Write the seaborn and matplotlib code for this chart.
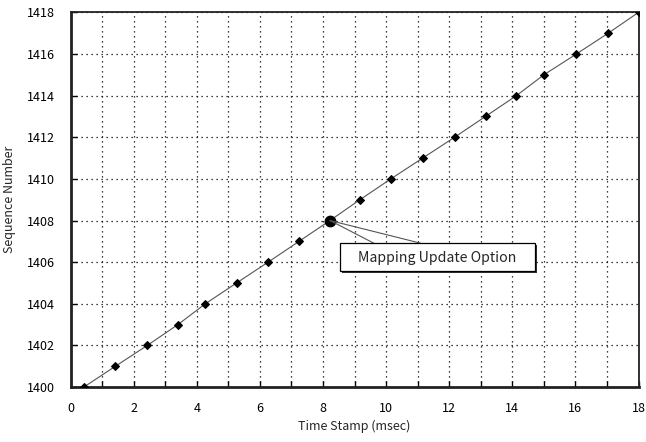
import matplotlib
matplotlib.use("Agg")
import matplotlib.pyplot as plt
import seaborn as sns
import pandas as pd
from matplotlib.patches import Rectangle
from matplotlib.ticker import MultipleLocator

time_ms = [0.42, 1.42, 2.43, 3.40, 4.27, 5.26, 6.26, 7.24, 8.22, 9.17,
           10.15, 11.16, 12.17, 13.15, 14.13, 15.00, 16.03, 17.04, 18.0]
seq_num = [1400, 1401, 1402, 1403, 1404, 1405, 1406, 1407, 1408, 1409,
           1410, 1411, 1412, 1413, 1414, 1415, 1416, 1417, 1418]
highlight_idx = 8
annotation_text = "Mapping Update Option"
x_ticks = [0, 2, 4, 6, 8, 10, 12, 14, 16, 18]
y_ticks = [1400, 1402, 1404, 1406, 1408, 1410, 1412, 1414, 1416, 1418]

sns.set_style("white")
plt.rcParams['font.family'] = ['Noto Sans CJK JP', 'DejaVu Sans']

df = pd.DataFrame({"t": time_ms, "s": seq_num})

fig = plt.figure(figsize=(6.46, 4.42), dpi=100)
ax = fig.add_axes([0.1094, 0.1244, 0.8790, 0.8476])

sns.lineplot(data=df, x="t", y="s", ax=ax, color="#555555", linewidth=0.8,
             marker="D", markersize=4, markerfacecolor="black",
             markeredgecolor="black", zorder=3)
hx, hy = time_ms[highlight_idx], seq_num[highlight_idx]
ax.plot([hx], [hy], marker="o", markersize=7.5, color="black", zorder=4)

ax.set_xlim(0, 18)
ax.set_ylim(1400, 1418)
ax.set_xticks(x_ticks)
ax.set_yticks(y_ticks)
ax.xaxis.set_minor_locator(MultipleLocator(1))
ax.grid(True, which="both", axis="x", color="black", linestyle=(0, (1, 3)), linewidth=0.9)
ax.grid(True, which="major", axis="y", color="black", linestyle=(0, (1, 3)), linewidth=0.9)
ax.tick_params(axis="both", which="both", direction="in", length=4, width=1,
               labelsize=9, colors="black", left=True, bottom=True)
ax.tick_params(axis="x", pad=11)
ax.tick_params(axis="y", pad=11)

for side in ["left", "bottom"]:
    ax.spines[side].set_linewidth(2)
    ax.spines[side].set_color("#222222")
for side in ["top", "right"]:
    ax.spines[side].set_linewidth(1.3)
    ax.spines[side].set_color("#222222")

ax.set_xlabel("Time Stamp (msec)", fontsize=9, labelpad=3)
ax.set_ylabel("Sequence Number", fontsize=9, labelpad=8)

# callout
bx0, bx1, by0, by1 = 8.53, 14.72, 1405.57, 1406.91
ax.plot([hx, 9.61], [hy, by1], color="#555555", linewidth=0.8, zorder=4)
ax.plot([hx, 11.09], [hy, by1], color="#555555", linewidth=0.8, zorder=4)
ax.add_patch(Rectangle((bx0 + 0.07, by0 - 0.1), bx1 - bx0, by1 - by0,
                       facecolor="#333333", edgecolor="none", zorder=4))
ax.add_patch(Rectangle((bx0, by0), bx1 - bx0, by1 - by0,
                       facecolor="white", edgecolor="black", linewidth=0.9, zorder=5))
ax.text((bx0 + bx1) / 2, (by0 + by1) / 2 - 0.02, annotation_text, ha="center", va="center",
        fontsize=10.2, zorder=6)

fig.savefig("out.png", dpi=100)
